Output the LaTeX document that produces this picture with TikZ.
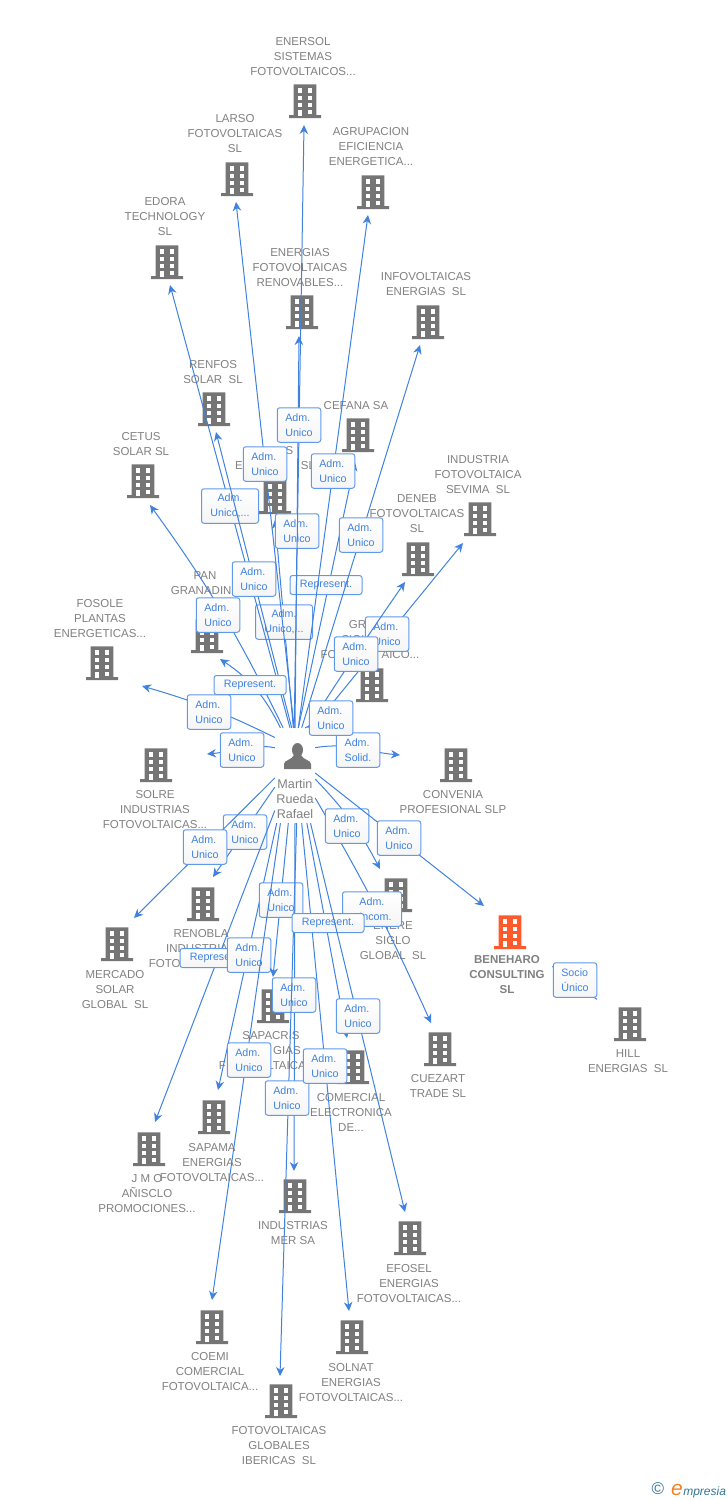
\documentclass[tikz,border=0pt]{standalone}
\usepackage{fontspec}
\setmainfont{Liberation Sans}
\usetikzlibrary{arrows.meta,positioning}
\definecolor{linkblue}{HTML}{3F82E0}
\definecolor{tagblue}{HTML}{5F99EC}
\definecolor{iconorange}{HTML}{FF5A2B}
\definecolor{icongray}{HTML}{757575}
\definecolor{textgray}{HTML}{808080}
\definecolor{logoteal}{HTML}{2F7695}
\definecolor{logoorange}{HTML}{F58220}
\tikzset{building/.style={minimum width=32pt,minimum height=34pt,inner sep=0pt,path picture={
	\begin{scope}[shift={(path picture bounding box.center)}]
		\fill[#1] (-11.3,-16.7) rectangle (11.3,15) (-16,14) rectangle (16,17);
		\foreach \wy in {-12.7,-5.5,1.6} {
			\fill[white] (-7.3,\wy) rectangle (-2.7,\wy+4.6);
			\fill[white] (2.5,\wy) rectangle (7.3,\wy+4.6);
		}
		\fill[white] (-7.3,8.5) rectangle (-2.7,14.5);
		\fill[white] (2.5,8.5) rectangle (7.3,13);
	\end{scope}}}}
\tikzstyle{grayblock} = [building=icongray]
\tikzstyle{lbl}     = [align=center,text=textgray,inner sep=0pt,font=\fontsize{11.5}{15}\selectfont]
\tikzstyle{link}    = [draw=linkblue,line width=1pt,->,>={Stealth[length=9pt,width=8.5pt]}]
\tikzstyle{tag}     = [draw=tagblue,line width=1pt,rounded corners=2.5pt,top color=white,bottom color=black!4,minimum width=43.5pt,minimum height=34.5pt,inner sep=0pt,align=left,text=linkblue,font=\fontsize{10.7}{15}\selectfont]
\tikzstyle{tagwide} = [tag,minimum width=57pt,align=center]
\tikzstyle{tagline} = [tag,minimum width=72pt,minimum height=19pt]
\begin{document}
\begin{tikzpicture}[x=1pt,y=-1pt]
	\useasboundingbox (0,0) rectangle (728,1500);
	% buildings
	\node[grayblock] (enersol) at (305,101) {};
	\node[grayblock] (larso) at (237,179) {};
	\node[grayblock] (agrupacion) at (373,192) {};
	\node[grayblock] (edora) at (167,262) {};
	\node[grayblock] (energias) at (302,312) {};
	\node[grayblock] (infovoltaicas) at (428,322) {};
	\node[grayblock] (renfos) at (214,409) {};
	\node[grayblock] (cefana) at (358,435) {};
	\node[grayblock] (cetus) at (143,481) {};
	\node[grayblock] (hidden) at (275,497) {};
	\node[grayblock] (sevima) at (480,519) {};
	\node[grayblock] (deneb) at (418,559) {};
	\node[grayblock] (pan) at (207,636) {};
	\node[grayblock] (fosole) at (102,663) {};
	\node[grayblock] (grupo) at (372,685) {};
	\node[grayblock] (solre) at (156,765) {};
	\node[grayblock] (convenia) at (456,765) {};
	\node[grayblock] (enere) at (396,895) {};
	\node[grayblock] (renobla) at (203,904) {};
	\node[building=iconorange] (beneharo) at (510,932) {};
	\node[grayblock] (mercado) at (117,944) {};
	\node[grayblock] (sapacris) at (273,1006) {};
	\node[grayblock] (hill) at (630,1024) {};
	\node[grayblock] (cuezart) at (440,1049) {};
	\node[grayblock] (comercial) at (353,1067) {};
	\node[grayblock] (sapama) at (214,1117) {};
	\node[grayblock] (jmo) at (149,1149) {};
	\node[grayblock] (mer) at (295,1196) {};
	\node[grayblock] (efosel) at (410,1238) {};
	\node[grayblock] (coemi) at (212,1327) {};
	\node[grayblock] (solnat) at (352,1337) {};
	\node[grayblock] (globales) at (281,1401) {};
	% names
	\node[lbl] (enersolName) at (303,57) {ENERSOL\\SISTEMAS\\FOTOVOLTAICOS...};
	\node[lbl] (larsoName) at (235,134) {LARSO\\FOTOVOLTAICAS\\SL};
	\node[lbl] (agrupacionName) at (371,147) {AGRUPACION\\EFICIENCIA\\ENERGETICA...};
	\node[lbl] (edoraName) at (165,217) {EDORA\\TECHNOLOGY\\SL};
	\node[lbl] (energiasName) at (300,268) {ENERGIAS\\FOTOVOLTAICAS\\RENOVABLES...};
	\node[lbl] (infovoltaicasName) at (426,284.5) {INFOVOLTAICAS\\ENERGIAS\ \ SL};
	\node[lbl] (renfosName) at (213,372.5) {RENFOS\\SOLAR\ \ SL};
	\node[lbl] (cefanaName) at (356,406) {CEFANA SA};
	\node[lbl] (cetusName) at (141,444.5) {CETUS\\SOLAR SL};
	\node[lbl] (hiddenName) at (275,458.5) {\phantom{ENERGIA}S\phantom{EEE}\\E\phantom{NERGIAS}\ \ SL};
	\node[lbl] (sevimaName) at (478,475) {INDUSTRIA\\FOTOVOLTAICA\\SEVIMA\ \ SL};
	\node[lbl] (denebName) at (417,514) {DENEB\\FOTOVOLTAICAS\\SL};
	\node[lbl] (panName) at (205,583.5) {PAN\\GRANADIN\phantom{A}};
	\node[lbl] (fosoleName) at (100,619) {FOSOLE\\PLANTAS\\ENERGETICAS...};
	\node[lbl] (grupoName) at (370,640) {GR\phantom{UPO}\\SIGL\phantom{O XXI}\\FO\phantom{TOVOLT}AICO...};
	\node[lbl] (solreName) at (155,810) {SOLRE\\INDUSTRIAS\\FOTOVOLTAICAS...};
	\node[lbl] (conveniaName) at (453,802.5) {CONVENIA\\PROFESIONAL SLP};
	\node[lbl] (enereName) at (393,941) {ENERE\\SIGLO\\GLOBAL\ \ SL};
	\node[lbl] (renoblaName) at (201,949) {RENOBLA\\INDUSTRIAS\\FOTO\phantom{VOLTAICAS...}};
	\node[lbl,font=\bfseries\fontsize{11.5}{15}\selectfont] (beneharoName) at (507,975) {BENEHARO\\CONSULTING\\SL};
	\node[lbl] (mercadoName) at (115,990) {MERCADO\\SOLAR\\GLOBAL\ \ SL};
	\node[lbl] (sapacrisName) at (271,1051) {SAPACRIS\\\phantom{ENER}GIAS\\F\phantom{OTOVO}LTAICA\phantom{S...}};
	\node[lbl] (hillName) at (628,1061.5) {HILL\\ENERGIAS\ \ SL};
	\node[lbl] (cuezartName) at (438,1086.5) {CUEZART\\TRADE SL};
	\node[lbl] (comercialName) at (351,1112) {COMERCIAL\\ELECTRONICA\\DE...};
	\node[lbl] (sapamaName) at (212,1163) {SAPAMA\\ENERGIAS\\FOTOVOLTAICAS...};
	\node[lbl] (jmoName) at (147,1194) {J M O\\AÑISCLO\\PROMOCIONES...};
	\node[lbl] (merName) at (293,1233.5) {INDUSTRIAS\\MER SA};
	\node[lbl] (efoselName) at (409,1284) {EFOSEL\\ENERGIAS\\FOTOVOLTAICAS...};
	\node[lbl] (coemiName) at (210,1372) {COEMI\\COMERCIAL\\FOTOVOLTAICA...};
	\node[lbl] (solnatName) at (351,1383) {SOLNAT\\ENERGIAS\\FOTOVOLTAICAS...};
	\node[lbl] (globalesName) at (279,1446) {FOTOVOLTAICAS\\GLOBALES\\IBERICAS\ \ SL};
	% person
	\node[minimum width=40pt,minimum height=95pt,inner sep=0pt] (martin) at (295,775.5) {};
	\fill[icongray] (297.5,750) ellipse (5.5 and 7);
	\fill[icongray] (284,769) -- (284,764) .. controls (284,760) and (292,760) .. (294,755) -- (301,755) .. controls (303,760) and (311,760) .. (311,764) -- (311,769) -- cycle;
	\node[lbl,font=\fontsize{12.6}{15}\selectfont] (martinName) at (295,799) {Martin\\Rueda\\Rafael};
	% arrow ends
	\coordinate (toEnersol) at (304,125);
	\coordinate (toLarso) at (236,202);
	\coordinate (toAgrupacion) at (368,215);
	\coordinate (toEdora) at (170,285);
	\coordinate (toEnergias) at (299,336);
	\coordinate (toInfovoltaicas) at (420,345);
	\coordinate (toRenfos) at (216,432);
	\coordinate (toCefana) at (355,462);
	\coordinate (toCetus) at (150,505);
	\coordinate (toHidden) at (275,520);
	\coordinate (toSevima) at (463,543);
	\coordinate (toDeneb) at (405,582);
	\coordinate (toPan) at (220,659);
	\coordinate (toFosole) at (142,686);
	\coordinate (toGrupo) at (352,706);
	\coordinate (toSolre) at (207,754);
	\coordinate (toConvenia) at (400,755);
	\coordinate (toEnere) at (380,869);
	\coordinate (toRenobla) at (213,877);
	\coordinate (toBeneharo) at (484,906);
	\coordinate (toMercado) at (134,918);
	\coordinate (toSapacris) at (273,977);
	\coordinate (toCuezart) at (431,1023);
	\coordinate (toComercial) at (347,1038);
	\coordinate (toSapama) at (218,1090);
	\coordinate (toJmo) at (155,1122);
	\coordinate (toMer) at (294,1171);
	\coordinate (toEfosel) at (405,1212);
	\coordinate (toCoemi) at (212,1300);
	\coordinate (toSolnat) at (349,1311);
	\coordinate (toGlobales) at (280,1376);
	\coordinate (toOwner) at (552,966);
	% connectors going up
	\draw[link] (martin.70) -- (toSevima);
	\node[tag] (tagSevima) at (387,634) {Adm.\\Unico};
	\draw[link] (martin.75) to[bend left=1] (toDeneb);
	\node[tag] (tagDeneb) at (356,654) {Adm.\\Unico};
	\draw[link] (martin.92) -- (toHidden);
	\node[tagwide] (tagHidden) at (284,622) {Adm.\\Unico,...};
	\draw[link] (martin.86) -- (toCefana);
	\node[tagline] (tagCefana) at (326,585) {Represent.};
	\draw[link] (martin.96) -- (toEdora);
	\node[tagwide] (tagEdora) at (230,506) {Adm.\\Unico,...};
	\draw[link] (martin.90) -- (toEnergias);
	\node[tag] (tagEnergias) at (297,531) {Adm.\\Unico};
	\draw[link] (martin.94) -- (toRenfos);
	\node[tag] (tagRenfos) at (254,579) {Adm.\\Unico};
	\draw[link] (martin.91) -- (toLarso);
	\node[tag] (tagLarso) at (265,464) {Adm.\\Unico};
	\draw[link] (martin.86) -- (toAgrupacion);
	\node[tag] (tagAgrupacion) at (333,471) {Adm.\\Unico};
	\draw[link] (martin.91) -- (toEnersol);
	\node[tag] (tagEnersol) at (299,425) {Adm.\\Unico};
	\draw[link] (martin.82) -- (toInfovoltaicas);
	\node[tag] (tagInfovoltaicas) at (361,535) {Adm.\\Unico};
	\draw[link] (martin.104) to[bend right=5] (toCetus);
	\node[tag] (tagCetus) at (218,615) {Adm.\\Unico};
	\draw[link] (martin.107) to[bend right=15] (toPan);
	\node[tagline] (tagPan) at (250,685) {Represent.};
	\draw[link] (martin.118) to[bend right=5] (toFosole);
	\node[tag] (tagFosole) at (209,712) {Adm.\\Unico};
	\draw[link] (martin.126) to[out=170,in=5] (toSolre);
	\node[tag] (tagSolre) at (242,750) {Adm.\\Unico};
	\draw[link] (martin.54) to[out=10,in=175] (toConvenia);
	\node[tag] (tagConvenia) at (358,750) {Adm.\\Solid.};
	\draw[link] (martin.78) -- (toGrupo);
	\node[tag] (tagGrupo) at (331,718) {Adm.\\Unico};
	% connectors going down
	\draw[link] (martin.210) -- (toRenobla);
	\node[tag] (tagRenobla) at (245,832) {Adm.\\Unico};
	\draw[link] (martin.187) -- (toMercado);
	\node[tag] (tagMercado) at (205,847) {Adm.\\Unico};
	\draw[link] (martin.240) -- (toJmo);
	\node[tagline] (tagJmo) at (216,958) {Represent.};
	\draw[link] (martin.249) -- (toSapama);
	\node[tag] (tagSapama) at (249,955) {Adm.\\Unico};
	\draw[link] (martin.262) -- (toSapacris);
	\node[tag] (tagSapacris) at (281,900) {Adm.\\Unico};
	\draw[link] (martin.253) -- (toCoemi);
	\node[tag] (tagCoemi) at (249,1060) {Adm.\\Unico};
	\draw[link] (martin.270) -- (toMer);
	\node[tag] (tagMer) at (294,995) {Adm.\\Unico};
	\draw[link] (martin.272) -- (toGlobales);
	\node[tag] (tagGlobales) at (287,1098) {Adm.\\Unico};
	\draw[link] (martin.278) -- (toSolnat);
	\node[tag] (tagSolnat) at (325,1066) {Adm.\\Unico};
	\draw[link] (martin.-48) to[bend left=3] (toCuezart);
	\node[tag,minimum width=59pt] (tagCuezart) at (372,909) {\hspace*{7pt}Adm.\\\hspace*{7pt}Incom.};
	\draw[link] (martin.284) -- (toComercial);
	\node[tagline] (tagComercial) at (328,923) {Represent.};
	\draw[link] (martin.288) -- (toEfosel);
	\node[tag] (tagEfosel) at (358,1016) {Adm.\\Unico};
	\draw[link] (martin.-10) to[bend left=8] (toEnere);
	\node[tag] (tagEnere) at (347,826) {Adm.\\Unico};
	\draw[link] (martin.7) -- (toBeneharo);
	\node[tag] (tagBeneharo) at (399,838) {Adm.\\Unico};
	\draw[link,shorten <=21pt] (hill) -- (toOwner);
	\node[tag] (tagHill) at (575,980) {Socio\\Único};
	% logo
	\node[text=logoteal,inner sep=0pt,font=\fontsize{17}{17}\selectfont] (logoMark) at (658,1489) {©};
	\node[text=logoorange,inner sep=0pt,font=\itshape\fontsize{21}{21}\selectfont,anchor=base west] (logoE) at (671,1495) {e};
	\node[text=logoteal,inner sep=0pt,font=\itshape\fontsize{12}{12}\selectfont,anchor=base west] (logoName) at (logoE.base east) {mpresia};
\end{tikzpicture}
\end{document}
